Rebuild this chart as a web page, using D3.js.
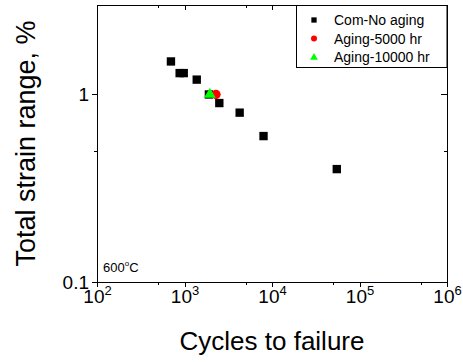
<!DOCTYPE html>
<html>
<head>
<meta charset="utf-8">
<script src="https://cdn.jsdelivr.net/npm/d3@7"></script>
<style>
  body { margin: 0; background: #fff; }
  svg { font-family: "Liberation Sans", Arial, sans-serif; }
  .axis path, .axis line { stroke: #000; stroke-width: 1; shape-rendering: crispEdges; }
</style>
</head>
<body>
<svg id="chart" width="463" height="362"></svg>
<script>
// data
var noAgingCycles = [700, 880, 980, 1380, 1900, 2500, 4270, 8000, 55000];
var noAgingStrain = [1.5, 1.3, 1.3, 1.2, 1.0, 0.9, 0.8, 0.6, 0.4];
var aging5000Cycles = [2290];
var aging5000Strain = [1.0];
var aging10000Cycles = [1950];
var aging10000Strain = [1.0];

var xMajor = [1e2, 1e3, 1e4, 1e5, 1e6];
var xMinor = [5e2, 5e3, 5e4, 5e5];
var yMajor = [0.1, 1];
var yMinor = [0.5];
var legendNames = ["Com-No aging", "Aging-5000 hr", "Aging-10000 hr"];

// plot frame (window.top is reserved, so use other names)
var plotL = 97, plotR = 447, plotT = 5, plotB = 282;

var svg = d3.select("#chart");

var x = d3.scaleLog().domain([1e2, 1e6]).range([plotL, plotR]);
var y = d3.scaleLog().domain([0.1, 3]).range([plotB, plotT]);

// bottom axis (ticks outward)
var gx = svg.append("g")
    .attr("class", "axis")
    .attr("transform", "translate(0," + plotB + ")")
    .call(d3.axisBottom(x).tickValues(xMajor).tickSize(5).tickSizeOuter(0).tickFormat(""));
svg.append("g")
    .attr("class", "axis")
    .attr("transform", "translate(0," + plotB + ")")
    .call(d3.axisBottom(x).tickValues(xMinor).tickSize(3).tickSizeOuter(0).tickFormat(""))
  .select(".domain").remove();

// x labels as 10^n
gx.selectAll(".tick").each(function(d) {
  var t = d3.select(this).append("text")
      .attr("y", 21)
      .attr("fill", "#000")
      .attr("font-size", 19)
      .attr("text-anchor", "middle");
  t.append("tspan").text("10");
  t.append("tspan").attr("dy", -8).attr("font-size", 13).text(Math.round(Math.log10(d)));
});

// top axis (ticks inward)
svg.append("g")
    .attr("class", "axis")
    .attr("transform", "translate(0," + plotT + ")")
    .call(d3.axisBottom(x).tickValues(xMajor).tickSize(5).tickSizeOuter(0).tickFormat(""));
svg.append("g")
    .attr("class", "axis")
    .attr("transform", "translate(0," + plotT + ")")
    .call(d3.axisBottom(x).tickValues(xMinor).tickSize(3).tickSizeOuter(0).tickFormat(""))
  .select(".domain").remove();

// left axis (ticks outward)
svg.append("g")
    .attr("class", "axis")
    .attr("transform", "translate(" + plotL + ",0)")
    .call(d3.axisLeft(y).tickValues(yMajor).tickSize(5).tickSizeOuter(0).tickPadding(3)
        .tickFormat(function(d) { return d < 1 ? "0.1" : "1"; }))
  .selectAll("text")
    .attr("font-size", 19)
    .attr("fill", "#000");
svg.append("g")
    .attr("class", "axis")
    .attr("transform", "translate(" + plotL + ",0)")
    .call(d3.axisLeft(y).tickValues(yMinor).tickSize(3).tickSizeOuter(0).tickFormat(""))
  .select(".domain").remove();

// right axis (ticks inward)
svg.append("g")
    .attr("class", "axis")
    .attr("transform", "translate(" + plotR + ",0)")
    .call(d3.axisLeft(y).tickValues(yMajor).tickSize(6).tickSizeOuter(0).tickFormat(""));
svg.append("g")
    .attr("class", "axis")
    .attr("transform", "translate(" + plotR + ",0)")
    .call(d3.axisLeft(y).tickValues(yMinor).tickSize(3).tickSizeOuter(0).tickFormat(""))
  .select(".domain").remove();

// markers
var sq = d3.symbol().type(d3.symbolSquare).size(70);
svg.append("g").selectAll("path")
  .data(noAgingCycles)
  .join("path")
    .attr("d", sq)
    .attr("transform", function(d, i) { return "translate(" + x(d) + "," + y(noAgingStrain[i]) + ")"; })
    .attr("fill", "#000");

svg.append("g").selectAll("circle")
  .data(aging5000Cycles)
  .join("circle")
    .attr("cx", function(d) { return x(d); })
    .attr("cy", function(d, i) { return y(aging5000Strain[i]); })
    .attr("r", 4.7)
    .attr("fill", "#ff0000");

var tri = d3.symbol().type(d3.symbolTriangle).size(60);
svg.append("g").selectAll("path")
  .data(aging10000Cycles)
  .join("path")
    .attr("d", tri)
    .attr("transform", function(d, i) { return "translate(" + x(d) + "," + y(aging10000Strain[i]) + ")"; })
    .attr("fill", "#00ff00");

// legend
var lg = svg.append("g");
lg.append("rect")
    .attr("x", 296.5).attr("y", plotT + 0.5)
    .attr("width", plotR - 296.5).attr("height", 62)
    .attr("fill", "#fff").attr("stroke", "#000").attr("stroke-width", 1);

var rowY = [20, 38.5, 57];
lg.append("path").attr("d", d3.symbol().type(d3.symbolSquare).size(28))
    .attr("transform", "translate(314," + rowY[0] + ")").attr("fill", "#000");
lg.append("circle").attr("cx", 314).attr("cy", rowY[1]).attr("r", 3).attr("fill", "#ff0000");
lg.append("path").attr("d", d3.symbol().type(d3.symbolTriangle).size(26))
    .attr("transform", "translate(314," + (rowY[2] + 0.5) + ")").attr("fill", "#00ff00");

lg.selectAll("text")
  .data(legendNames)
  .join("text")
    .attr("x", 334)
    .attr("y", function(d, i) { return rowY[i] + 5; })
    .attr("font-size", 14)
    .text(function(d) { return d; });

// temperature note
var note = svg.append("text").attr("x", 103).attr("y", 272).attr("font-size", 13);
note.append("tspan").text("600");
note.append("tspan").attr("dy", -6).attr("font-size", 8).text("o");
note.append("tspan").attr("dy", 6).text("C");

// axis titles
svg.append("text")
    .attr("x", (plotL + plotR) / 2)
    .attr("y", 350)
    .attr("text-anchor", "middle")
    .attr("font-size", 26)
    .text("Cycles to failure");

svg.append("text")
    .attr("transform", "translate(35," + (plotT + plotB) / 2 + ") rotate(-90)")
    .attr("text-anchor", "middle")
    .attr("font-size", 27)
    .text("Total strain range, %");
</script>
</body>
</html>
